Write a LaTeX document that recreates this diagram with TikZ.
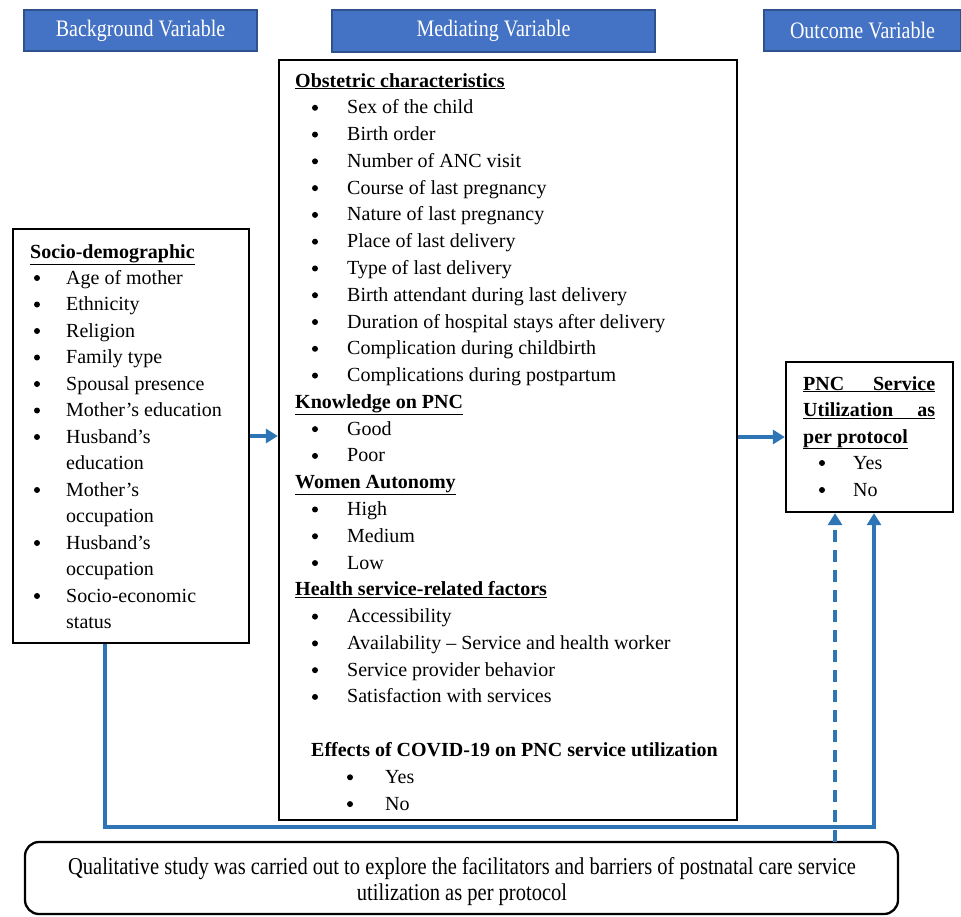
\documentclass[tikz,border=0pt]{standalone}
\usepackage{fontspec}
\setmainfont{Liberation Serif}
\usetikzlibrary{arrows.meta}
\definecolor{hdrfill}{HTML}{4472C4}
\definecolor{hdrline}{HTML}{2F528F}
\definecolor{connblue}{HTML}{2E75B6}
\newcommand{\ulh}[1]{\underline{\textbf{#1}}}
\newcommand{\tallr}[1]{\scalebox{1}[1.18]{#1}}
\tikzset{
  hdr/.style={draw=hdrline, fill=hdrfill, line width=1.5pt, text=white, inner sep=0pt,
    font=\fontsize{20}{24}\selectfont},
  frame/.style={draw=black, line width=2.3pt, inner sep=0pt, fill=white},
  txt/.style={anchor=base west, inner sep=0pt, font=\fontsize{20}{24}\selectfont},
  bul/.style={circle, fill=black, inner sep=0pt, minimum size=6pt},
  conn/.style={draw=connblue, line width=3.2pt, -{Triangle[length=12pt,width=14pt]}},
  dconn/.style={conn, dash pattern=on 12pt off 8pt},
}
\begin{document}
\begin{tikzpicture}[x=1pt,y=-1pt]
\useasboundingbox (0,0) rectangle (961,916);
% headers
\node[hdr, minimum width=233pt, minimum height=41pt] (bgh) at (140.5,30.5) {\tallr{Background Variable}};
\node[hdr, minimum width=323pt, minimum height=42pt] (medh) at (493.5,31) {\tallr{Mediating Variable}};
\node[hdr, minimum width=197pt, minimum height=41pt] (outh) at (862.5,30.5) {\tallr{Outcome Variable}};
% frames
\node[frame, minimum width=236pt, minimum height=414pt] (bg) at (131,436) {};
\node[frame, minimum width=458pt, minimum height=760pt] (med) at (508,440) {};
\node[frame, minimum width=167pt, minimum height=150pt] (out) at (869.5,437) {};
\node[frame, rounded corners=14pt, minimum width=873pt, minimum height=72pt] (qual) at (461.5,878) {};
% left box text
\node[txt] (bgt0) at (30,258) {\ulh{Socio-demographic}};
\foreach \k/\b/\t in {0/1/Age of mother, 1/1/Ethnicity, 2/1/Religion, 3/1/Family type,
  4/1/Spousal presence, 5/1/Mother’s education, 6/1/Husband’s, 7/0/education,
  8/1/Mother’s, 9/0/occupation, 10/1/Husband’s, 11/0/occupation,
  12/1/Socio-economic, 13/0/status}{
  \ifnum\b=1 \node[bul] (bgb\k) at (37,{278+26.5*\k}) {}; \fi
  \node[txt] (bgt\k) at (66,{284+26.5*\k}) {\t};
}
% mediating box text
\node[txt] (mh1) at (295,87) {\ulh{Obstetric characteristics}};
\node[txt] (mh2) at (295,{87+26.78*12}) {\ulh{Knowledge on PNC}};
\node[txt] (mh3) at (295,{87+26.78*15}) {\ulh{Women Autonomy}};
\node[txt] (mh4) at (295,{87+26.78*19}) {\ulh{Health service-related factors}};
\foreach \k/\t in {1/Sex of the child, 2/Birth order, 3/Number of ANC visit,
  4/Course of last pregnancy, 5/Nature of last pregnancy, 6/Place of last delivery,
  7/Type of last delivery, 8/Birth attendant during last delivery,
  9/Duration of hospital stays after delivery, 10/Complication during childbirth,
  11/Complications during postpartum, 13/Good, 14/Poor, 16/High, 17/Medium, 18/Low,
  20/Accessibility, 21/Availability – Service and health worker,
  22/Service provider behavior, 23/Satisfaction with services}{
  \node[bul] (mb\k) at (315,{81+26.78*\k}) {};
  \node[txt] (mt\k) at (347,{87+26.78*\k}) {\t};
}
\node[txt] (cov) at (311,{87+26.78*25}) {\textbf{Effects of COVID-19 on PNC service utilization}};
\node[bul] (cb1) at (350,{81+26.78*26}) {};
\node[txt] (ct1) at (385,{87+26.78*26}) {Yes};
\node[bul] (cb2) at (350,{81+26.78*27}) {};
\node[txt] (ct2) at (385,{87+26.78*27}) {No};
% outcome box text
\node[txt] (oh1) at (803,390) {\underline{\textbf{\makebox[132pt][s]{PNC\hfill Service}}}};
\node[txt] (oh2) at (803,416.5) {\underline{\textbf{\makebox[132pt][s]{Utilization\hfill as}}}};
\node[txt] (oh3) at (803,443) {\ulh{per protocol}};
\node[bul] (ob1) at (822,463) {};
\node[txt] (ot1) at (853,469) {Yes};
\node[bul] (ob2) at (822,490) {};
\node[txt] (ot2) at (853,496) {No};
% bottom text
\node[anchor=base, inner sep=0pt, font=\fontsize{20.5}{24}\selectfont] (q1) at (462,874)
  {\tallr{Qualitative study was carried out to explore the facilitators and barriers of postnatal care service}};
\node[anchor=base, inner sep=0pt, font=\fontsize{20.5}{24}\selectfont] (q2) at (462,900)
  {\tallr{utilization as per protocol}};
% connectors
\coordinate (c1) at (105,827);
\coordinate (c2) at (874,827);
\coordinate (d1) at (835,842);
\draw[conn] (bg.east) -- (bg.east -| med.west);
\draw[conn] (med.east |- out.west) -- (out.west);
\draw[conn] (bg.south -| c1) -- (c1) -- (c2) -- (c2 |- out.south);
\draw[dconn] (d1) -- (d1 |- out.south);
\end{tikzpicture}
\end{document}
